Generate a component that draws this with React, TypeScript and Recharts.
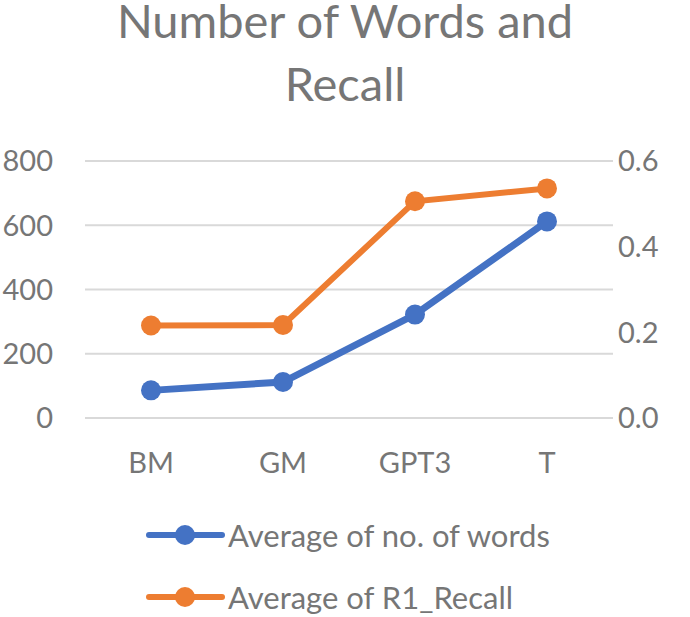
import { LineChart, Line, XAxis, YAxis, CartesianGrid, Legend } from "recharts";

const categories = ["BM", "GM", "GPT3", "T"];
const avgWords = [86, 112, 322, 612];
const avgRecall = [0.216, 0.217, 0.506, 0.536];
const leftTicks = [0, 200, 400, 600, 800];
const rightTicks = [0, 0.2, 0.4, 0.6];

const titleLines = ["Number of Words and", "Recall"];
const seriesNames = ["Average of no. of words", "Average of R1_Recall"];
const seriesColors = ["#4472C4", "#ED7D31"];

const data = categories.map((c, i) => ({
  name: c,
  words: avgWords[i],
  recall: avgRecall[i],
}));

const FONT = "Lato, 'Open Sans', sans-serif";
const GRAY = "#767676";

function LegendBox() {
  return (
    <div style={{ fontFamily: FONT, fontSize: 31, color: GRAY }}>
      {seriesNames.map((name, i) => (
        <div key={name} style={{ display: "flex", alignItems: "center", height: 62, whiteSpace: "nowrap" }}>
          <svg width={83} height={24} style={{ flex: "none" }}>
            <line x1={4} y1={12} x2={77} y2={12} stroke={seriesColors[i]} strokeWidth={6} strokeLinecap="round" />
            <circle cx={40} cy={12} r={10} fill={seriesColors[i]} />
          </svg>
          <span>{name}</span>
        </div>
      ))}
    </div>
  );
}

export default function App() {
  return (
    <div style={{ position: "absolute", top: 0, left: 0, width: 690, height: 617, background: "#fff", overflow: "hidden" }}>
      {titleLines.map((t, i) => (
        <div
          key={t}
          style={{
            position: "absolute",
            top: i * 63,
            left: 0,
            width: 690,
            textAlign: "center",
            fontFamily: FONT,
            fontSize: 47,
            lineHeight: "40px",
            color: GRAY,
            whiteSpace: "nowrap",
          }}
        >
          {t}
        </div>
      ))}
      <LineChart
        width={690}
        height={617}
        data={data}
        margin={{ top: 161, right: 0, bottom: 149, left: 0 }}
      >
        <CartesianGrid vertical={false} stroke="#d9d9d9" strokeWidth={2} yAxisId="left" />
        <XAxis
          dataKey="name"
          axisLine={false}
          tickLine={false}
          tickSize={0}
          tickMargin={34}
          height={50}
          padding={{ left: 66, right: 66 }}
          tick={{ fill: GRAY, fontSize: 29, fontFamily: FONT }}
        />
        <YAxis
          yAxisId="left"
          domain={[0, 800]}
          ticks={leftTicks}
          axisLine={false}
          tickLine={false}
          tickSize={0}
          tickMargin={32}
          width={85}
          tick={{ fill: GRAY, fontSize: 29, fontFamily: FONT }}
        />
        <YAxis
          yAxisId="right"
          orientation="right"
          domain={[0, 0.6]}
          ticks={rightTicks}
          tickFormatter={(v: number) => v.toFixed(1)}
          axisLine={false}
          tickLine={false}
          tickSize={0}
          tickMargin={5}
          width={77}
          tick={{ fill: GRAY, fontSize: 29, fontFamily: FONT }}
        />
        <Line
          yAxisId="left"
          dataKey="words"
          name={seriesNames[0]}
          stroke={seriesColors[0]}
          strokeWidth={7}
          dot={{ r: 10, fill: seriesColors[0], stroke: seriesColors[0], strokeWidth: 0 }}
          isAnimationActive={false}
        />
        <Line
          yAxisId="right"
          dataKey="recall"
          name={seriesNames[1]}
          stroke={seriesColors[1]}
          strokeWidth={6}
          dot={{ r: 10, fill: seriesColors[1], stroke: seriesColors[1], strokeWidth: 0 }}
          isAnimationActive={false}
        />
        <Legend
          layout="vertical"
          align="center"
          verticalAlign="middle"
          content={() => <LegendBox />}
          wrapperStyle={{ top: 504, left: 145, width: 500 }}
        />
      </LineChart>
    </div>
  );
}
